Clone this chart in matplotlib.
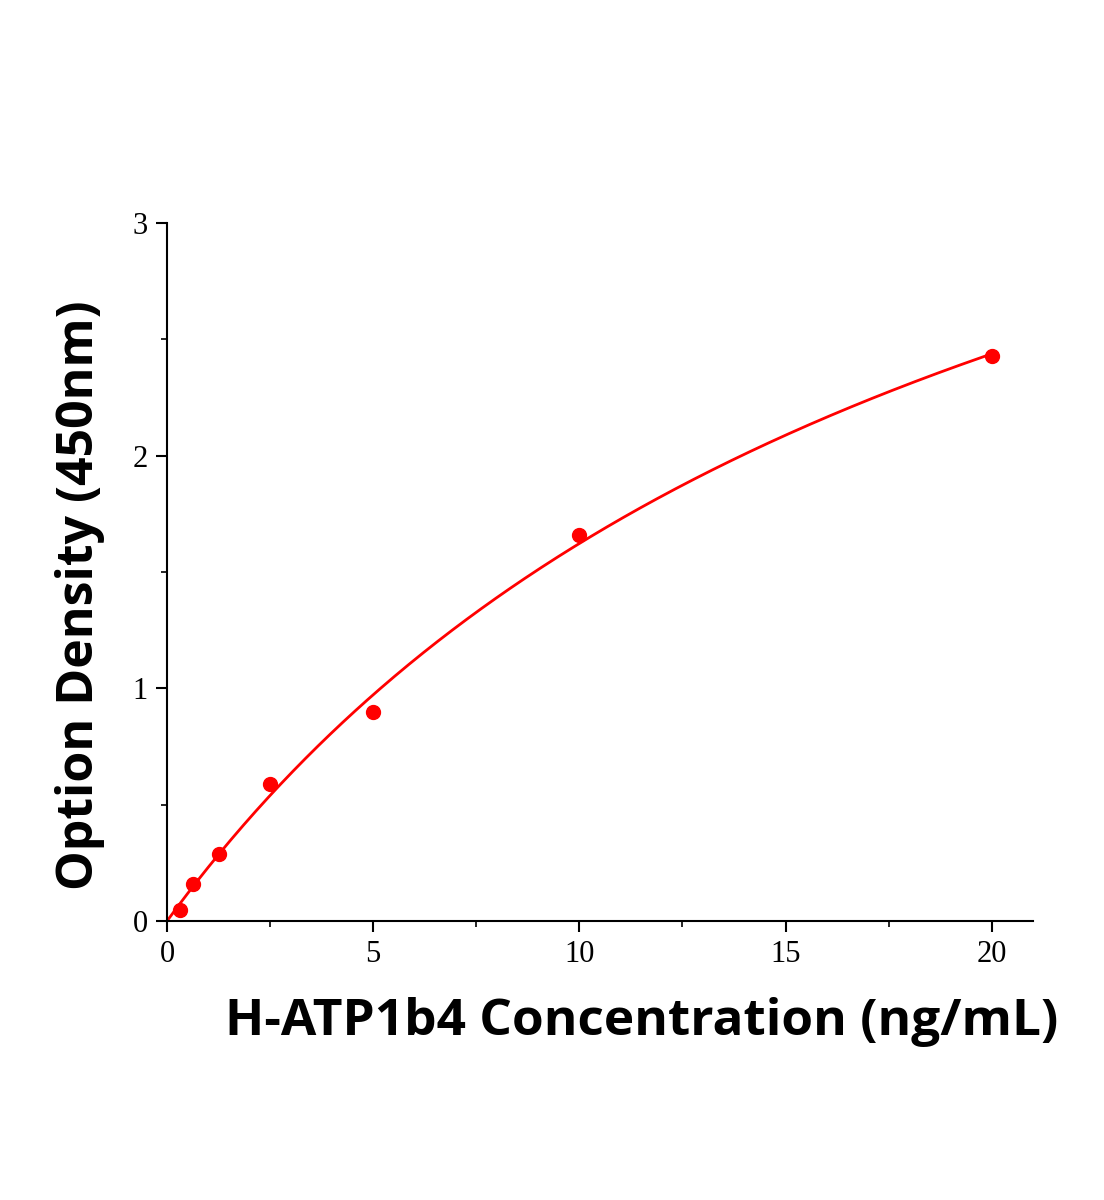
import numpy as np
import matplotlib
matplotlib.use("Agg")
import matplotlib.pyplot as plt
from matplotlib.ticker import MultipleLocator

conc = [0.3125, 0.625, 1.25, 2.5, 5, 10, 20]
od = [0.047, 0.16, 0.29, 0.59, 0.90, 1.66, 2.43]
xticks = [0, 5, 10, 15, 20]
yticks = [0, 1, 2, 3]

# fit y = a*x/(b+x) via grid search on b, least squares on a
x = np.array(conc); y = np.array(od)
best = None
for b in np.linspace(1, 60, 5901):
    f = x / (b + x)
    a = (f @ y) / (f @ f)
    r = ((a * f - y) ** 2).sum()
    if best is None or r < best[0]:
        best = (r, a, b)
_, A, B = best
xf = np.linspace(0, 20, 400)
yf = A * xf / (B + xf)

fig = plt.figure(figsize=(11.04, 12), dpi=100)
ax = fig.add_axes([0.1513, 0.2325, 0.7844, 0.5817])
ax.plot(xf, yf, color="#ff0000", lw=2)
ax.plot(conc, od, "o", color="#ff0000", ms=10)
ax.set_xlim(0, 21)
ax.set_ylim(0, 3)
ax.set_xticks(xticks)
ax.set_yticks(yticks)
ax.xaxis.set_minor_locator(MultipleLocator(2.5))
ax.yaxis.set_minor_locator(MultipleLocator(0.5))
for s in ["top", "right"]:
    ax.spines[s].set_visible(False)
for s in ["left", "bottom"]:
    ax.spines[s].set_linewidth(1.5)
ax.tick_params(which="major", direction="out", length=8, width=1.5, labelsize=22, pad=6)
ax.tick_params(which="minor", direction="out", length=4, width=1.2)
for lab in ax.get_xticklabels() + ax.get_yticklabels():
    lab.set_fontfamily("Liberation Serif")
ax.set_xlabel("H-ATP1b4 Concentration (ng/mL)", fontsize=37, fontweight="bold",
              fontfamily="Open Sans")
ax.xaxis.set_label_coords((642 - 167) / 866, (921 - 1022) / 698, transform=None) if False else None
ax.xaxis.set_label_coords((642 - 167) / 866, -(1022 - 921) / 698)
ax.xaxis.label.set_va("center")
ax.set_ylabel("Option Density (450nm)", fontsize=36, fontweight="bold",
              fontfamily="Open Sans")
ax.yaxis.set_label_coords(-(167 - 80) / 866, (921 - 595) / 698)
ax.yaxis.label.set_va("center")
fig.savefig("out.png", dpi=100)
